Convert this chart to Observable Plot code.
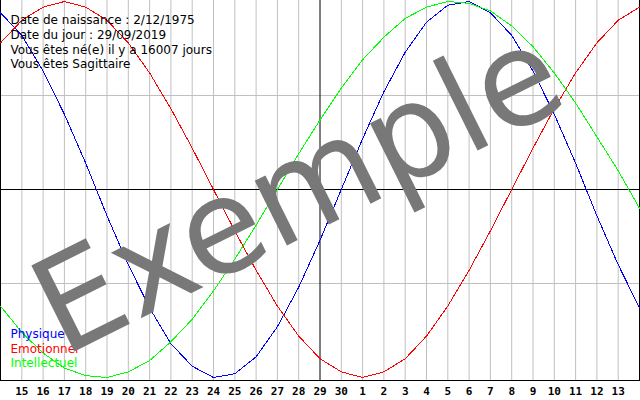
<!DOCTYPE html>
<html><head><meta charset="utf-8">
<script src="https://cdn.jsdelivr.net/npm/d3@7"></script>
<script src="https://cdn.jsdelivr.net/npm/@observablehq/plot@0.6"></script>
<style>body{margin:0;background:#fff}</style>
</head><body><div id="chart"></div>
<script>
const dayLabels = ["15","16","17","18","19","20","21","22","23","24","25","26","27","28","29","30","1","2","3","4","5","6","7","8","9","10","11","12","13"];
const physique = [0.94, 0.82, 0.63, 0.40, 0.14, -0.14, -0.40, -0.63, -0.82, -0.94, -1.00, -0.98, -0.89, -0.73, -0.52, -0.27, 0.00, 0.27, 0.52, 0.73, 0.89, 0.98, 1.00, 0.94, 0.82, 0.63, 0.40, 0.14, -0.14, -0.40, -0.63];
const emotionnel = [0.78, 0.90, 0.97, 1.00, 0.97, 0.90, 0.78, 0.62, 0.43, 0.22, 0.00, -0.22, -0.43, -0.62, -0.78, -0.90, -0.97, -1.00, -0.97, -0.90, -0.78, -0.62, -0.43, -0.22, 0.00, 0.22, 0.43, 0.62, 0.78, 0.90, 0.97];
const intellectuel = [-0.62, -0.76, -0.87, -0.95, -0.99, -1.00, -0.97, -0.91, -0.81, -0.69, -0.54, -0.37, -0.19, 0.00, 0.19, 0.37, 0.54, 0.69, 0.81, 0.91, 0.97, 1.00, 0.99, 0.95, 0.87, 0.76, 0.62, 0.46, 0.28, 0.10, -0.10];
const seriesNames = ["Physique", "Emotionnel", "Intellectuel"];
const seriesColors = ["#0000ff", "#ff0000", "#00ff00"];
const infoLines = ["Date de naissance : 2/12/1975", "Date du jour : 29/09/2019", "Vous êtes né(e) il y a 16007 jours", "Vous êtes Sagittaire"];
const watermark = "Exemple";
const todayIndex = 15;
const gridLevels = [0.5, -0.5];

const seriesValues = [physique, emotionnel, intellectuel];
const rows = seriesValues.flatMap((vals, s) => vals.map((v, i) => ({i, v, s: seriesNames[s]})));
const lastIdx = physique.length - 1;
const tickIdx = dayLabels.map((_, k) => k + 1);
const gridIdx = tickIdx.filter(i => i !== todayIndex);

const legendMarks = seriesNames.map((name, k) =>
  Plot.text([name], {frameAnchor: "bottom-left", text: d => d, fill: d => d, textAnchor: "start", lineAnchor: "bottom",
    dx: 10, dy: -13.5 - (seriesNames.length - 1 - k) * 14.5, fontSize: 12}));

const plot = Plot.plot({
  width: 640, height: 400,
  marginTop: 0, marginRight: 0, marginBottom: 20, marginLeft: 0,
  style: {fontFamily: "'DejaVu Sans', sans-serif", fontSize: "12px", background: "#fff", color: "#000"},
  x: {domain: [0, lastIdx], range: [0, 639], axis: null, label: null},
  y: {domain: [-1, 1], range: [377, 1], axis: null, label: null},
  color: {domain: seriesNames, range: seriesColors},
  marks: [
    Plot.ruleX(gridIdx, {stroke: "#c0c0c0", strokeWidth: 1}),
    Plot.ruleY(gridLevels, {stroke: "#c0c0c0", strokeWidth: 1}),
    Plot.ruleX([todayIndex], {stroke: "#000", strokeWidth: 1}),
    Plot.ruleY([0], {stroke: "#000", strokeWidth: 1}),
    Plot.ruleX([0, lastIdx], {stroke: "#000", strokeWidth: 1}),
    Plot.frame({anchor: "bottom", stroke: "#000", strokeWidth: 1}),
    Plot.line(rows, {x: "i", y: "v", z: "s", stroke: "s", strokeWidth: 1, shapeRendering: "crispEdges"}),
    Plot.axisX(tickIdx, {tickFormat: i => dayLabels[i - 1], tickSize: 0, tickPadding: 7, fontFamily: "'DejaVu Sans Mono', monospace", fontWeight: "bold", fontSize: 11, fill: "#000"}),
    ...legendMarks,
    Plot.text([infoLines.join("\n")], {frameAnchor: "top-left", text: d => d, textAnchor: "start", lineAnchor: "top", dx: 10, dy: 13.5, lineHeight: 1.22, fontSize: 12, fill: "#000"}),
    Plot.text([watermark], {frameAnchor: "middle", text: d => d, rotate: -26.5, fontSize: 132, fill: "#787878", fontFamily: "'DejaVu Sans', sans-serif", dx: -22, dy: 2})
  ]
});
document.getElementById("chart").appendChild(plot);
</script>
</body></html>
